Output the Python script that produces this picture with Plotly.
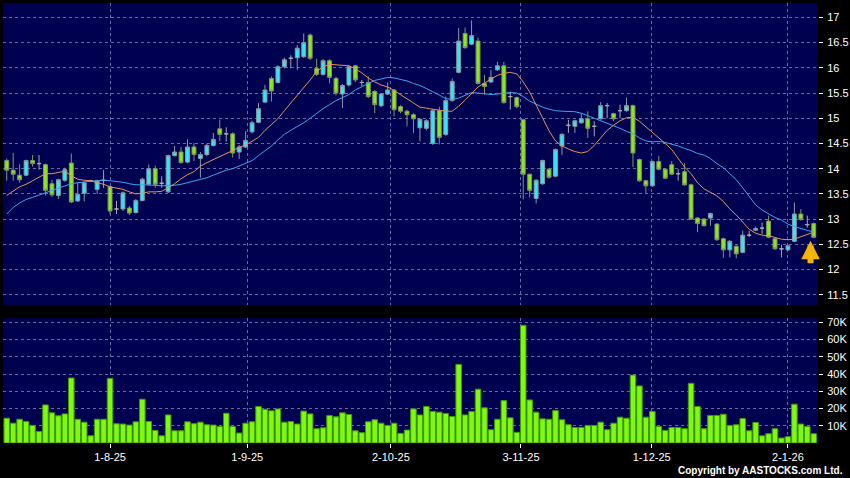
import plotly.graph_objects as go

# ---------------- data ----------------
opens = [14.16, 13.97, 13.87, 13.87, 14.16, 14.10, 14.08, 13.70, 13.47, 13.77,
         14.11, 13.36, 13.51, 13.76, 13.59, 13.77, 13.64, 13.20, 13.20, 13.22,
         13.13, 13.37, 13.69, 14.00, 13.71, 13.54, 14.26, 14.33, 14.13, 14.43,
         14.20, 14.28, 14.46, 14.79, 14.69, 14.69, 14.33, 14.43, 14.73, 14.92,
         15.32, 15.79, 15.71, 16.02, 16.19, 16.20, 16.22, 16.65, 15.99, 15.87,
         16.14, 15.79, 15.48, 15.66, 16.04, 15.71, 15.71, 15.53, 15.25, 15.48,
         15.56, 15.23, 15.14, 15.07, 14.81, 14.80, 14.50, 15.15, 14.68, 15.35,
         15.91, 16.68, 16.47, 16.53, 15.69, 15.72, 15.96, 16.04, 15.43, 15.41,
         14.97, 13.89, 13.41, 13.70, 13.99, 13.85, 14.45, 14.86, 14.84, 14.91,
         14.99, 14.84, 14.99, 15.25, 15.09, 15.15, 15.15, 15.25, 14.18, 13.76,
         13.66, 14.14, 13.99, 14.08, 13.90, 13.94, 13.68, 13.02, 13.00, 13.02,
         12.90, 12.61, 12.39, 12.46, 12.34, 12.68, 12.78, 12.82, 12.96, 12.61,
         12.41, 12.39, 12.56, 13.10, 12.89, 12.91]
highs = [14.20, 14.31, 14.09, 14.18, 14.27, 14.27, 14.10, 13.78, 13.80, 14.02,
         14.30, 13.72, 13.75, 13.78, 13.78, 13.97, 13.66, 13.36, 13.55, 13.26,
         13.40, 13.82, 14.08, 14.06, 13.85, 14.28, 14.45, 14.43, 14.58, 14.51,
         14.33, 14.50, 14.71, 14.97, 14.82, 14.72, 14.47, 14.74, 14.95, 15.30,
         15.66, 15.83, 16.05, 16.20, 16.25, 16.45, 16.68, 16.68, 16.18, 16.17,
         16.17, 15.82, 15.68, 16.06, 16.06, 15.76, 15.83, 15.56, 15.50, 15.71,
         15.58, 15.26, 15.17, 15.10, 15.00, 14.98, 15.18, 15.23, 15.43, 15.79,
         16.79, 16.80, 16.94, 16.60, 15.86, 15.96, 16.12, 16.12, 15.53, 15.43,
         14.99, 13.90, 13.79, 14.18, 14.01, 14.40, 14.70, 14.97, 14.97, 15.10,
         15.14, 14.94, 15.32, 15.30, 15.11, 15.27, 15.41, 15.27, 14.20, 13.78,
         14.16, 14.25, 14.01, 14.15, 13.99, 14.11, 13.70, 13.04, 13.02, 13.13,
         12.92, 12.63, 12.58, 12.48, 12.77, 12.77, 12.85, 12.93, 13.07, 12.63,
         12.49, 12.49, 13.33, 13.20, 13.07, 12.93]
lows = [13.76, 13.76, 13.72, 13.85, 14.04, 13.98, 13.47, 13.44, 13.40, 13.74,
        13.32, 13.34, 13.35, 13.74, 13.50, 13.62, 13.10, 13.10, 13.16, 13.08,
        13.11, 13.35, 13.67, 13.62, 13.62, 13.52, 14.24, 14.10, 14.11, 14.15,
        13.82, 14.25, 14.44, 14.54, 14.54, 14.22, 14.19, 14.41, 14.70, 14.90,
        15.30, 15.33, 15.69, 15.99, 15.99, 15.96, 16.20, 16.15, 15.84, 15.85,
        15.69, 15.45, 15.20, 15.63, 15.72, 15.63, 15.40, 15.10, 15.22, 15.46,
        15.04, 15.10, 14.84, 14.71, 14.54, 14.76, 14.47, 14.48, 14.65, 15.33,
        15.89, 16.38, 16.45, 15.67, 15.47, 15.70, 15.94, 15.29, 15.17, 15.20,
        13.39, 13.43, 13.31, 13.68, 13.80, 13.83, 14.27, 14.71, 14.71, 14.89,
        14.61, 14.64, 14.97, 15.00, 14.94, 15.00, 15.13, 14.03, 13.74, 13.52,
        13.64, 13.97, 13.79, 13.87, 13.76, 13.66, 12.98, 12.74, 12.85, 12.87,
        12.57, 12.23, 12.24, 12.22, 12.32, 12.64, 12.76, 12.70, 12.62, 12.39,
        12.24, 12.37, 12.54, 12.97, 12.83, 12.62]
closes = [13.97, 13.89, 13.78, 14.16, 14.10, 14.10, 13.57, 13.48, 13.78, 13.98,
          13.34, 13.49, 13.72, 13.76, 13.76, 13.77, 13.16, 13.20, 13.52, 13.12,
          13.37, 13.79, 14.00, 13.69, 13.71, 14.26, 14.33, 14.12, 14.43, 14.28,
          14.28, 14.46, 14.58, 14.68, 14.69, 14.31, 14.43, 14.56, 14.91, 15.19,
          15.56, 15.54, 16.02, 16.16, 16.19, 16.39, 16.50, 16.19, 15.87, 16.14,
          15.81, 15.50, 15.65, 16.02, 15.76, 15.71, 15.43, 15.27, 15.48, 15.56,
          15.17, 15.14, 15.07, 14.99, 14.98, 14.95, 15.15, 14.62, 15.35, 15.73,
          16.53, 16.40, 16.64, 15.69, 15.63, 15.81, 16.04, 15.31, 15.43, 15.23,
          13.89, 13.57, 13.77, 14.16, 13.83, 14.38, 14.68, 14.86, 14.95, 14.99,
          14.80, 14.84, 15.25, 15.25, 14.99, 15.15, 15.25, 14.31, 13.76, 13.66,
          14.14, 13.99, 13.81, 13.89, 13.90, 13.68, 13.00, 12.91, 12.87, 13.11,
          12.59, 12.39, 12.56, 12.31, 12.68, 12.68, 12.81, 12.82, 12.64, 12.41,
          12.41, 12.47, 13.10, 12.99, 12.89, 12.64]
volumes_k = [14.4, 11.5, 13.8, 12.5, 10.2, 6.7, 22.1, 17.5, 15.8, 16.9,
             37.7, 13.8, 12.1, 4.2, 13.8, 13.8, 37.5, 11.2, 11.0, 10.4,
             12.3, 25.4, 12.5, 7.3, 4.2, 16.3, 7.1, 7.1, 12.3, 11.2,
             12.1, 10.6, 10.4, 9.6, 17.3, 9.6, 5.8, 11.5, 12.3, 21.2,
             19.6, 18.7, 19.8, 12.1, 12.5, 11.0, 18.5, 16.9, 8.3, 8.8,
             16.0, 15.2, 17.5, 16.5, 7.1, 6.0, 12.3, 13.5, 11.5, 10.2,
             11.5, 5.6, 7.5, 19.8, 16.3, 21.2, 18.3, 17.9, 17.1, 15.4,
             45.6, 16.3, 18.3, 31.2, 20.4, 7.7, 13.8, 24.6, 14.6, 6.2,
             68.3, 25.0, 17.9, 14.0, 13.8, 18.8, 13.5, 10.6, 9.0, 9.0,
             10.2, 10.2, 12.1, 7.7, 11.5, 15.0, 14.4, 39.4, 33.1, 15.0,
             18.3, 9.6, 7.3, 9.0, 9.0, 8.3, 34.6, 21.2, 8.3, 16.0,
             16.0, 16.7, 10.2, 10.6, 14.2, 7.1, 11.9, 4.2, 5.4, 8.3,
             2.9, 3.7, 22.5, 11.0, 9.6, 5.4]
ma_fast = [13.47, 13.56, 13.64, 13.69, 13.76, 13.83, 13.90, 13.90, 13.92, 13.95,
           13.86, 13.79, 13.77, 13.76, 13.72, 13.69, 13.64, 13.61, 13.59, 13.54,
           13.50, 13.51, 13.54, 13.54, 13.55, 13.62, 13.70, 13.80, 13.88, 13.94,
           14.05, 14.12, 14.18, 14.24, 14.30, 14.37, 14.42, 14.47, 14.54, 14.62,
           14.76, 14.88, 14.99, 15.15, 15.30, 15.45, 15.62, 15.76, 15.93, 16.02,
           16.07, 16.06, 16.05, 16.04, 15.98, 15.90, 15.80, 15.72, 15.66, 15.62,
           15.55, 15.47, 15.39, 15.30, 15.22, 15.20, 15.18, 15.15, 15.14, 15.14,
           15.24, 15.36, 15.50, 15.62, 15.70, 15.78, 15.85, 15.89, 15.91, 15.88,
           15.72, 15.52, 15.27, 15.02, 14.75, 14.55, 14.45, 14.39, 14.34, 14.31,
           14.34, 14.46, 14.62, 14.76, 14.86, 14.95, 15.01, 15.02, 14.94, 14.83,
           14.72, 14.62, 14.50, 14.38, 14.20, 14.03, 13.90, 13.72, 13.60, 13.53,
           13.46, 13.35, 13.20, 13.08, 12.93, 12.80, 12.72, 12.68, 12.67, 12.64,
           12.60, 12.59, 12.60, 12.65, 12.70, 12.74]
ma_slow = [13.10, 13.23, 13.32, 13.39, 13.43, 13.47, 13.52, 13.57, 13.61, 13.66,
           13.70, 13.72, 13.74, 13.75, 13.76, 13.77, 13.76, 13.75, 13.73, 13.70,
           13.68, 13.68, 13.68, 13.67, 13.66, 13.66, 13.67, 13.69, 13.72, 13.75,
           13.78, 13.82, 13.87, 13.92, 13.97, 14.00, 14.05, 14.10, 14.16, 14.26,
           14.36, 14.45, 14.57, 14.68, 14.76, 14.83, 14.91, 15.00, 15.10, 15.19,
           15.27, 15.35, 15.41, 15.47, 15.56, 15.63, 15.69, 15.75, 15.78, 15.81,
           15.80, 15.77, 15.74, 15.69, 15.65, 15.59, 15.53, 15.46, 15.39, 15.37,
           15.40, 15.46, 15.51, 15.50, 15.48, 15.47, 15.48, 15.50, 15.51, 15.50,
           15.43, 15.34, 15.28, 15.22, 15.18, 15.15, 15.14, 15.14, 15.13, 15.10,
           15.05, 15.00, 14.95, 14.90, 14.86, 14.80, 14.74, 14.69, 14.61, 14.55,
           14.53, 14.54, 14.52, 14.49, 14.45, 14.40, 14.36, 14.30, 14.27, 14.20,
           14.10, 14.02, 13.90, 13.78, 13.62, 13.45, 13.28, 13.18, 13.10, 13.03,
           12.98, 12.90, 12.85, 12.81, 12.77, 12.74]
date_tick_pos = [16, 37.25, 59.5, 79.65, 99.9, 121]
date_tick_labels = ["1-8-25", "1-9-25", "2-10-25", "3-11-25", "1-12-25", "2-1-26"]
price_ticks = [11.5, 12, 12.5, 13, 13.5, 14, 14.5, 15, 15.5, 16, 16.5, 17]
vol_ticks_k = [10, 20, 30, 40, 50, 60, 70]

# ---------------- build ----------------
n = len(closes)
idx = list(range(n))
volumes = [v * 1000 for v in volumes_k]

FONT = "Liberation Sans, Arial, sans-serif"
NAVY = "#000050"
GRID = "#6A6AA2"
CYAN = "#33E6F4"
LIME = "#8CE620"

def subset(kind):
    sel = [i for i in idx if (kind == "up" and closes[i] > opens[i]) or
           (kind == "down" and closes[i] < opens[i]) or
           (kind == "flat" and closes[i] == opens[i])]
    return dict(x=sel, open=[opens[i] for i in sel], high=[highs[i] for i in sel],
                low=[lows[i] for i in sel], close=[closes[i] for i in sel])

fig = go.Figure()

fig.add_trace(go.Scatter(x=idx, y=ma_slow, mode="lines", line=dict(color="#3AA6EE", width=1),
                         xaxis="x", yaxis="y", hoverinfo="skip"))
fig.add_trace(go.Scatter(x=idx, y=ma_fast, mode="lines", line=dict(color="#E8925C", width=1),
                         xaxis="x", yaxis="y", hoverinfo="skip"))

styles = {
    "up": (CYAN, "#8A9AA6"),
    "down": (LIME, "#7E9A5E"),
    "flat": ("#A8A8A8", "#A8A8A8"),
}
for kind, (fill, edge) in styles.items():
    d = subset(kind)
    fig.add_trace(go.Candlestick(
        **d, xaxis="x", yaxis="y", whiskerwidth=0,
        increasing=dict(fillcolor=fill, line=dict(color=edge, width=1)),
        decreasing=dict(fillcolor=fill, line=dict(color=edge, width=1)),
        hoverinfo="skip"))

fig.add_trace(go.Bar(x=idx, y=volumes, xaxis="x2", yaxis="y2", width=0.86,
                     marker=dict(color="#80F810", line=dict(color="#3E9A00", width=1)),
                     hoverinfo="skip"))

xr = [-0.58, 125.66]
tickfont = dict(family=FONT, size=11, color="white")
common_x = dict(range=xr, showgrid=True, gridcolor=GRID, griddash="3px,3px", gridwidth=1,
                zeroline=False, showline=False, tickmode="array", tickvals=date_tick_pos,
                fixedrange=True)

fig.update_layout(
    width=850, height=478,
    margin=dict(l=3, r=32, t=1, b=34.5),
    paper_bgcolor="black", plot_bgcolor=NAVY,
    showlegend=False, boxgap=0.14, hovermode=False,
    xaxis=dict(**common_x, anchor="y", showticklabels=False, ticks="",
               rangeslider=dict(visible=False)),
    xaxis2=dict(**common_x, anchor="y2", matches="x", ticktext=date_tick_labels,
                ticks="outside", ticklen=4, tickcolor="white", tickfont=tickfont),
    yaxis=dict(domain=[0.313, 1.0], range=[11.29, 17.286], side="right",
               tickmode="array", tickvals=price_ticks, ticktext=[f"{t:g}" for t in price_ticks],
               ticks="outside", ticklen=4, tickcolor="white", tickfont=tickfont,
               ticklabelstandoff=2, fixedrange=True,
               showgrid=True, gridcolor=GRID, griddash="3px,3px", zeroline=False),
    yaxis2=dict(domain=[0.0, 0.2836], range=[0, 72400], side="right",
                tickmode="array", tickvals=[v * 1000 for v in vol_ticks_k],
                ticktext=[f"{v}K" for v in vol_ticks_k],
                ticks="outside", ticklen=4, tickcolor="white", tickfont=tickfont,
                ticklabelstandoff=2, fixedrange=True,
                showgrid=True, gridcolor=GRID, griddash="3px,3px", zeroline=False),
    annotations=[
        dict(text="Copyright by AASTOCKS.com Ltd.", xref="paper", yref="paper",
             x=1.0331, y=-0.062, xanchor="right", yanchor="middle", showarrow=False,
             font=dict(family=FONT, size=10, color="white", weight="bold")),
        dict(x=n - 1.5, y=lows[-1] - 0.05, xref="x", yref="y", text="", showarrow=True,
             ax=0, ay=24, arrowcolor="#F5B400", arrowwidth=6, arrowhead=2, arrowsize=0.62),
    ],
)

fig.write_html("out.html", config=dict(displayModeBar=False, staticPlot=True),
               post_script="document.body.style.margin='0';document.body.style.background='black';")
